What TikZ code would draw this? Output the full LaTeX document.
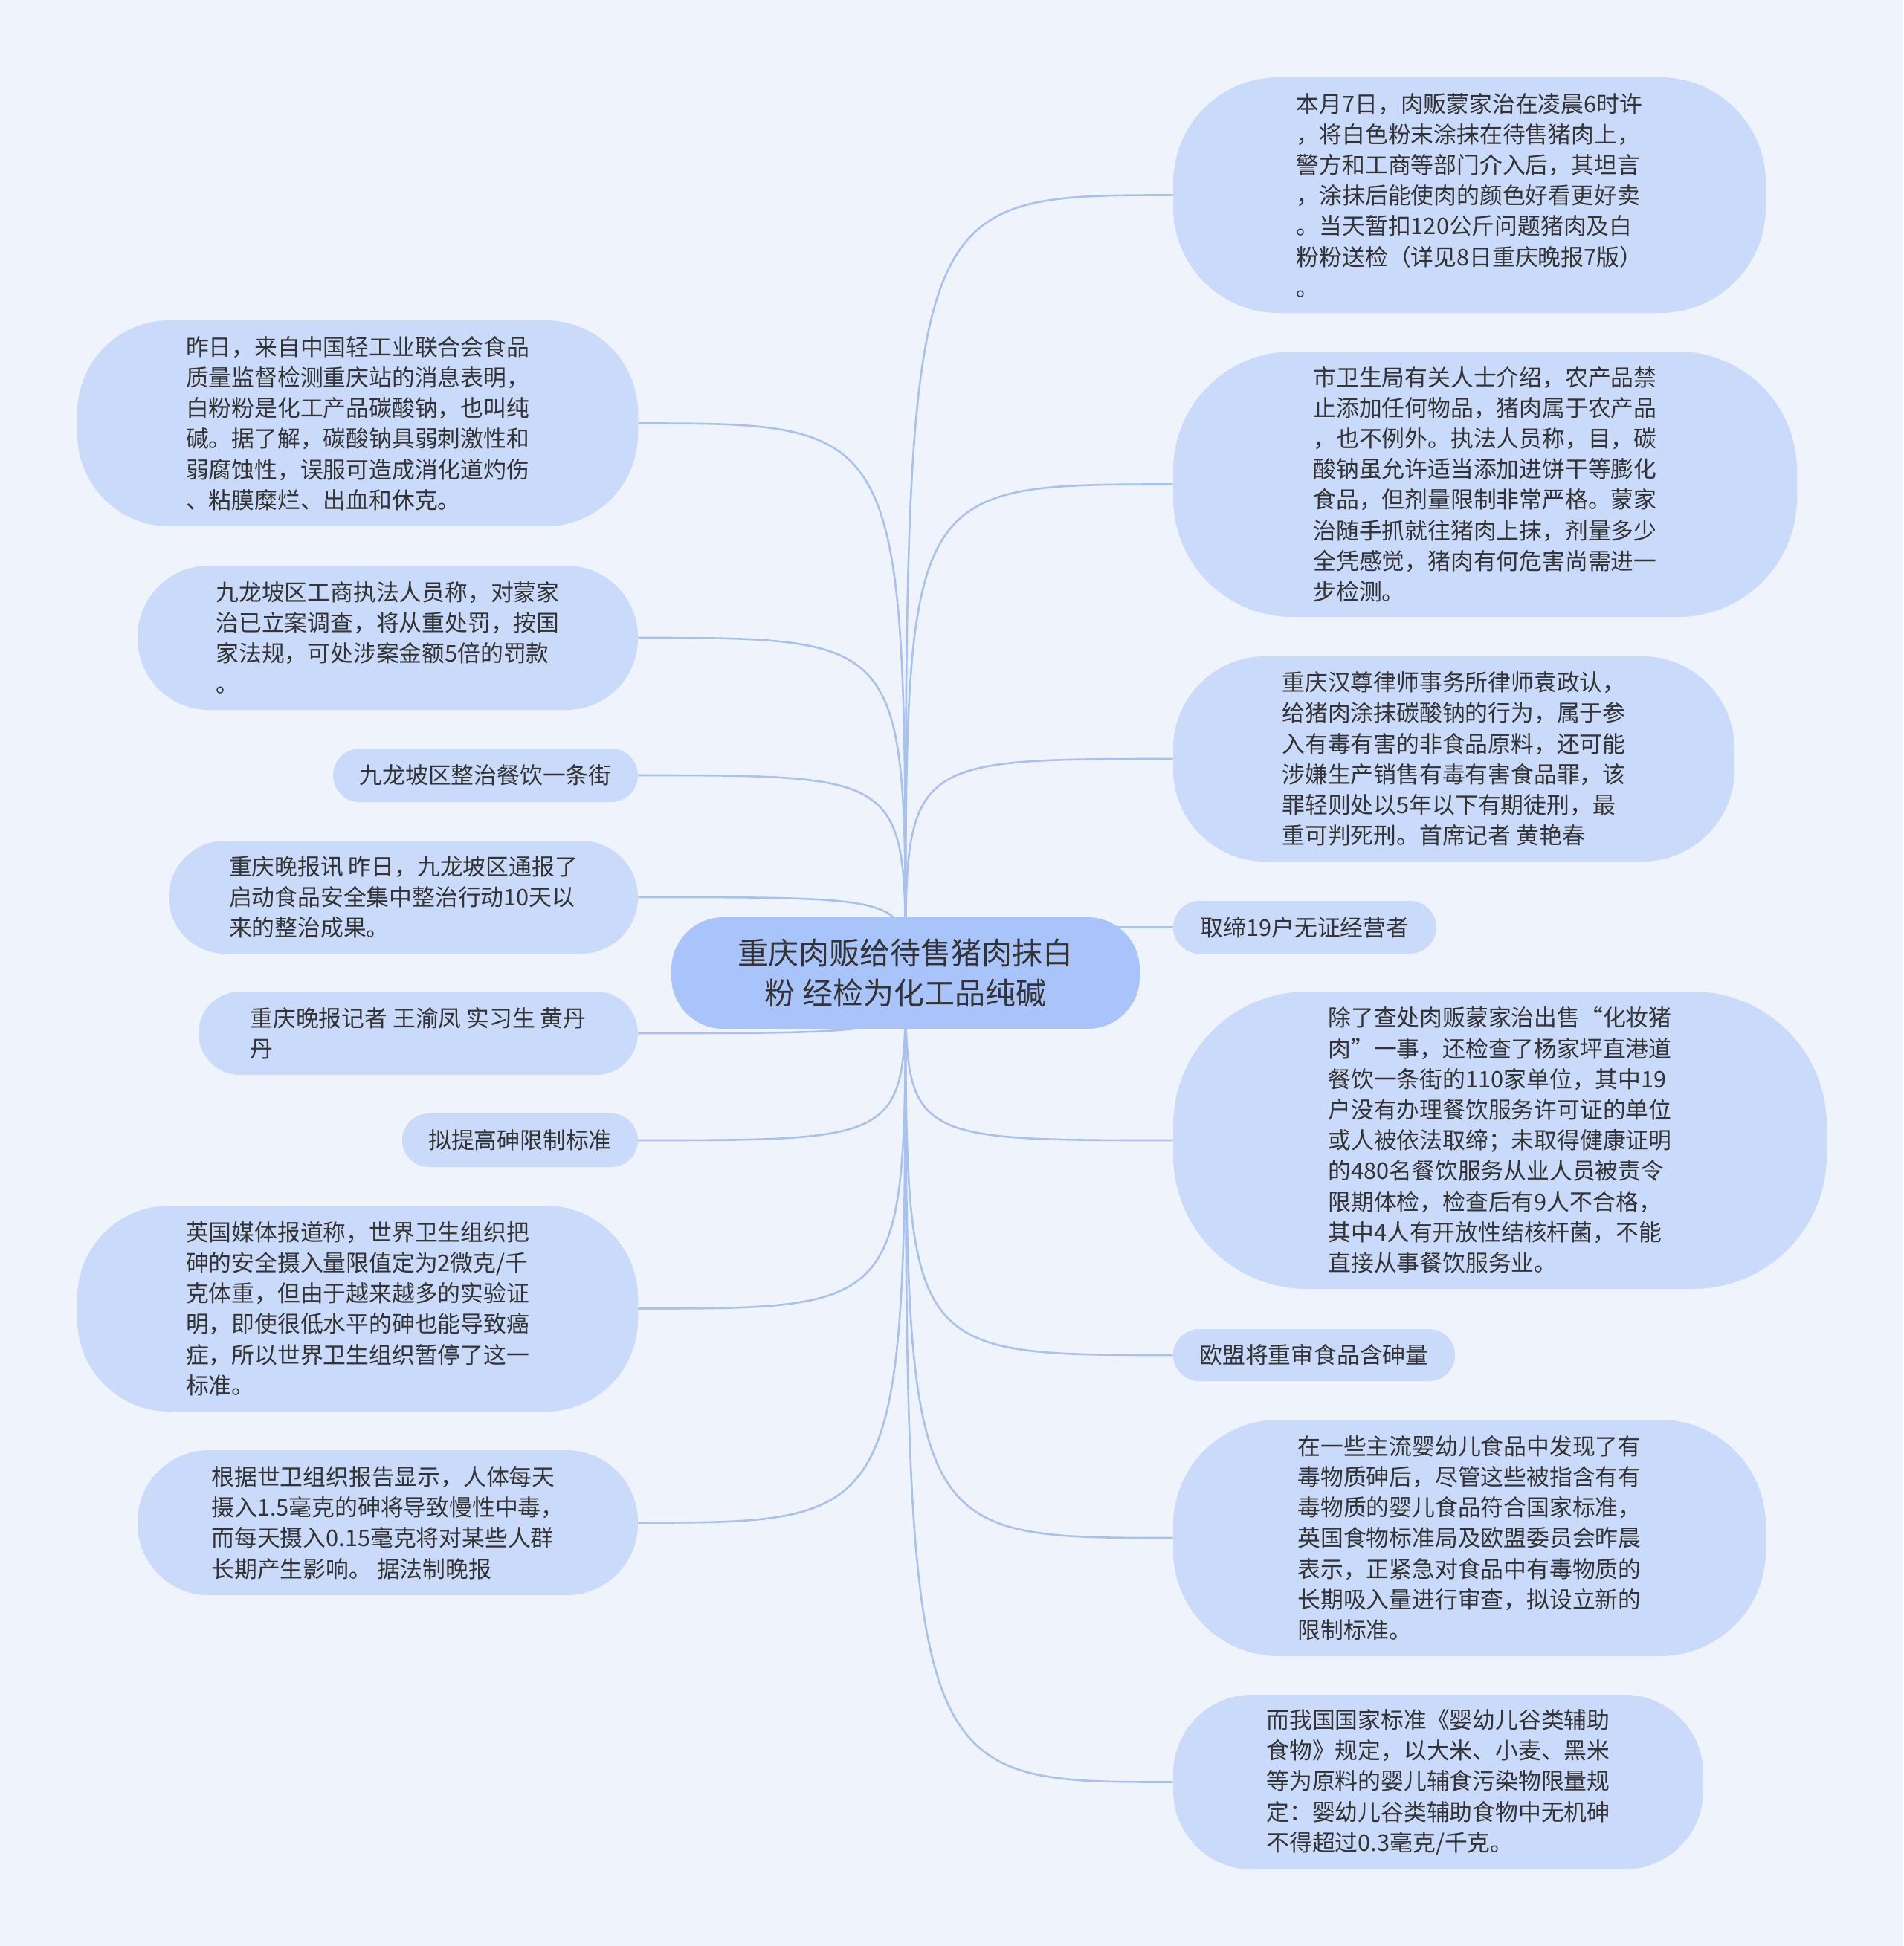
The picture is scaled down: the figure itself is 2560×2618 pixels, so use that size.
\documentclass[tikz,border=0pt]{standalone}
\usepackage{fontspec}
\setmainfont{Noto Sans CJK SC}
\definecolor{mapBack}{HTML}{EEF3FC}
\definecolor{mapLeaf}{HTML}{CADAFA}
\definecolor{mapRoot}{HTML}{A9C4FA}
\definecolor{mapLink}{HTML}{A9C1EF}
\definecolor{mapText}{HTML}{333333}
\pgfdeclarelayer{paper}
\pgfdeclarelayer{links}
\pgfsetlayers{paper,links,main}
\tikzset{
  leaf/.style={fill=mapLeaf, text=mapText, align=left, inner sep=0pt,
    font=\fontsize{15.4pt}{20.6pt}\selectfont},
  root/.style={fill=mapRoot, text=mapText, align=center, inner sep=0pt,
    font=\fontsize{20.5pt}{26.7pt}\selectfont},
  link/.style={draw=mapLink, line width=1.3pt},
}
\begin{document}
\begin{tikzpicture}[x=0.5pt, y=-0.5pt]
\begin{pgfonlayer}{paper}
  \fill[mapBack] (0,0) rectangle (2560,2618);
\end{pgfonlayer}
\useasboundingbox (0,0) rectangle (2560,2618);
% ---------- root ----------
\node[root, minimum width=315pt, minimum height=75pt, rounded corners=35pt] (root) at (1218,1309)
  {重庆肉贩给待售猪肉抹白\\粉 经检为化工品纯碱};
% ---------- right branch ----------
\node[leaf, minimum width=398.5pt, minimum height=158.5pt, rounded corners=71pt] (r1) at (1976.5,262.5)
  {本月7日，肉贩蒙家治在凌晨6时许\\，将白色粉末涂抹在待售猪肉上，\\警方和工商等部门介入后，其坦言\\，涂抹后能使肉的颜色好看更好卖\\。当天暂扣120公斤问题猪肉及白\\粉粉送检（详见8日重庆晚报7版）\\。};
\node[leaf, minimum width=419.5pt, minimum height=178.5pt, rounded corners=80pt] (r2) at (1997.5,651.5)
  {市卫生局有关人士介绍，农产品禁\\止添加任何物品，猪肉属于农产品\\，也不例外。执法人员称，目，碳\\酸钠虽允许适当添加进饼干等膨化\\食品，但剂量限制非常严格。蒙家\\治随手抓就往猪肉上抹，剂量多少\\全凭感觉，猪肉有何危害尚需进一\\步检测。};
\node[leaf, minimum width=377.5pt, minimum height=138pt, rounded corners=62pt] (r3) at (1955.5,1021)
  {重庆汉尊律师事务所律师袁政认，\\给猪肉涂抹碳酸钠的行为，属于参\\入有毒有害的非食品原料，还可能\\涉嫌生产销售有毒有害食品罪，该\\罪轻则处以5年以下有期徒刑，最\\重可判死刑。首席记者 黄艳春};
\node[leaf, minimum width=177pt, minimum height=35.5pt, rounded corners=17.75pt] (r4) at (1755,1247.5)
  {取缔19户无证经营者};
\node[leaf, minimum width=439.5pt, minimum height=200pt, rounded corners=90pt] (r5) at (2017.5,1534)
  {除了查处肉贩蒙家治出售“化妆猪\\肉”一事，还检查了杨家坪直港道\\餐饮一条街的110家单位，其中19\\户没有办理餐饮服务许可证的单位\\或人被依法取缔；未取得健康证明\\的480名餐饮服务从业人员被责令\\限期体检，检查后有9人不合格，\\其中4人有开放性结核杆菌，不能\\直接从事餐饮服务业。};
\node[leaf, minimum width=189.5pt, minimum height=35pt, rounded corners=17.5pt] (r6) at (1767.5,1823)
  {欧盟将重审食品含砷量};
\node[leaf, minimum width=398.5pt, minimum height=159pt, rounded corners=71pt] (r7) at (1976.5,2069)
  {在一些主流婴幼儿食品中发现了有\\毒物质砷后，尽管这些被指含有有\\毒物质的婴儿食品符合国家标准，\\英国食物标准局及欧盟委员会昨晨\\表示，正紧急对食品中有毒物质的\\长期吸入量进行审查，拟设立新的\\限制标准。};
\node[leaf, minimum width=356.5pt, minimum height=117.5pt, rounded corners=53pt] (r8) at (1934.5,2397.5)
  {而我国国家标准《婴幼儿谷类辅助\\食物》规定，以大米、小麦、黑米\\等为原料的婴儿辅食污染物限量规\\定：婴幼儿谷类辅助食物中无机砷\\不得超过0.3毫克/千克。};
% ---------- left branch ----------
\node[leaf, minimum width=377pt, minimum height=138.5pt, rounded corners=62pt] (l1) at (481,569.5)
  {昨日，来自中国轻工业联合会食品\\质量监督检测重庆站的消息表明，\\白粉粉是化工产品碳酸钠，也叫纯\\碱。据了解，碳酸钠具弱刺激性和\\弱腐蚀性，误服可造成消化道灼伤\\、粘膜糜烂、出血和休克。};
\node[leaf, minimum width=336.5pt, minimum height=97pt, rounded corners=48pt] (l2) at (521.5,858)
  {九龙坡区工商执法人员称，对蒙家\\治已立案调查，将从重处罚，按国\\家法规，可处涉案金额5倍的罚款\\。};
\node[leaf, minimum width=205pt, minimum height=36pt, rounded corners=18pt] (l3) at (653,1043)
  {九龙坡区整治餐饮一条街};
\node[leaf, minimum width=315.5pt, minimum height=76pt, rounded corners=38pt] (l4) at (542.5,1207)
  {重庆晚报讯 昨日，九龙坡区通报了\\启动食品安全集中整治行动10天以\\来的整治成果。};
\node[leaf, minimum width=295.5pt, minimum height=56pt, rounded corners=28pt] (l5) at (562.5,1390)
  {重庆晚报记者 王渝凤 实习生 黄丹\\丹};
\node[leaf, minimum width=158.5pt, minimum height=36pt, rounded corners=18pt] (l6) at (699.5,1534)
  {拟提高砷限制标准};
\node[leaf, minimum width=377pt, minimum height=138.5pt, rounded corners=62pt] (l7) at (481,1760.5)
  {英国媒体报道称，世界卫生组织把\\砷的安全摄入量限值定为2微克/千\\克体重，但由于越来越多的实验证\\明，即使很低水平的砷也能导致癌\\症，所以世界卫生组织暂停了这一\\标准。};
\node[leaf, minimum width=336.5pt, minimum height=97.5pt, rounded corners=48pt] (l8) at (521.5,2048.5)
  {根据世卫组织报告显示，人体每天\\摄入1.5毫克的砷将导致慢性中毒，\\而每天摄入0.15毫克将对某些人群\\长期产生影响。 据法制晚报};
% ---------- links ----------
\begin{pgfonlayer}{links}
  \foreach \n in {r1,r2,r3,r4,r5,r6,r7,r8}
    \draw[link] (root.center) .. controls (root.center |- \n.west) and (root.center |- \n.west) .. (\n.west);
  \foreach \n in {l1,l2,l3,l4,l5,l6,l7,l8}
    \draw[link] (root.center) .. controls (root.center |- \n.east) and (root.center |- \n.east) .. (\n.east);
\end{pgfonlayer}
\end{tikzpicture}
\end{document}
